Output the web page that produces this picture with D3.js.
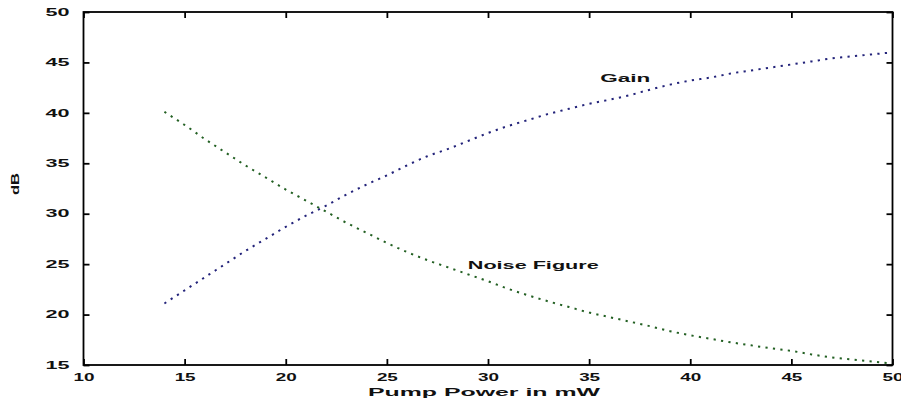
<!DOCTYPE html>
<html>
<head>
<meta charset="utf-8">
<title>Gain and Noise Figure</title>
<script src="https://d3js.org/d3.v7.min.js"></script>
<style>
  body { margin: 0; background: #fff; }
  text { font-family: "Liberation Sans", Arial, sans-serif; font-weight: bold; fill: #111; }
</style>
</head>
<body>
<div id="chart"></div>
<script>
// pump power (mW)
const power = [14, 15, 16, 17, 18, 19, 20, 21, 22, 23, 24, 25, 26, 27, 28, 29, 30, 31,
               32, 33, 34, 35, 36, 37, 38, 39, 40, 41, 42, 43, 44, 45, 46, 47, 48, 49, 50];
// gain (dB)
const gain = [21.1, 22.4, 23.7, 25.0, 26.3, 27.5, 28.7, 29.8, 30.8, 31.9, 32.9, 33.8, 34.8,
              35.7, 36.4, 37.2, 38.0, 38.7, 39.3, 39.9, 40.4, 40.9, 41.3, 41.75, 42.3, 42.8,
              43.2, 43.5, 43.9, 44.2, 44.5, 44.8, 45.1, 45.4, 45.6, 45.8, 46.0];
// noise figure (dB)
const noiseFig = [40.1, 38.8, 37.4, 36.1, 34.8, 33.6, 32.4, 31.3, 30.2, 29.1, 28.1, 27.1, 26.2,
                  25.4, 24.7, 24.0, 23.3, 22.55, 21.9, 21.3, 20.75, 20.2, 19.75, 19.3, 18.85,
                  18.35, 17.95, 17.6, 17.25, 16.95, 16.65, 16.4, 16.05, 15.75, 15.55, 15.35, 15.15];
const xTicks = [10, 15, 20, 25, 30, 35, 40, 45, 50];
const yTicks = [15, 20, 25, 30, 35, 40, 45, 50];

const W = 901, H = 406;
const margin = {top: 12, right: 8.5, bottom: 41, left: 83.5};
const w = W - margin.left - margin.right;
const h = H - margin.top - margin.bottom;

const svg = d3.select("#chart").append("svg")
    .attr("width", W).attr("height", H);
const g = svg.append("g")
    .attr("transform", "translate(" + margin.left + "," + margin.top + ")");

const x = d3.scaleLinear().domain([10, 50]).range([0, w]);
const y = d3.scaleLinear().domain([15, 50]).range([h, 0]);

// curves, dotted like matlab ':'
const line = d3.line().x((d, i) => x(power[i])).y(d => y(d)).curve(d3.curveMonotoneX);

g.append("path").datum(gain)
    .attr("d", line)
    .attr("fill", "none")
    .attr("stroke", "#23237a")
    .attr("stroke-width", 2)
    .attr("stroke-dasharray", "2.2,5.3");

g.append("path").datum(noiseFig)
    .attr("d", line)
    .attr("fill", "none")
    .attr("stroke", "#236023")
    .attr("stroke-width", 2)
    .attr("stroke-dasharray", "2.2,5.3");

// axes, ticks pointing in, mirrored on top and right
const tickLen = 6;
function styleAxis(sel) {
  sel.select(".domain").remove();
  sel.selectAll(".tick line").attr("stroke", "#000").attr("stroke-width", 1.8);
}

g.append("g")
    .attr("transform", "translate(0," + h + ")")
    .call(d3.axisBottom(x).tickValues(xTicks).tickSize(-tickLen).tickPadding(9))
    .call(styleAxis)
    .call(a => a.selectAll(".tick text")
        .attr("font-size", 10).attr("textLength", 21).attr("lengthAdjust", "spacingAndGlyphs"));

g.append("g")
    .call(d3.axisTop(x).tickValues(xTicks).tickSize(-tickLen).tickFormat(""))
    .call(styleAxis);

g.append("g")
    .call(d3.axisLeft(y).tickValues(yTicks).tickSize(-tickLen).tickPadding(14))
    .call(styleAxis)
    .call(a => a.selectAll(".tick text")
        .attr("font-size", 10).attr("textLength", 24).attr("lengthAdjust", "spacingAndGlyphs"));

g.append("g")
    .attr("transform", "translate(" + w + ",0)")
    .call(d3.axisRight(y).tickValues(yTicks).tickSize(-tickLen).tickFormat(""))
    .call(styleAxis);

// frame
g.append("rect")
    .attr("width", w).attr("height", h)
    .attr("fill", "none")
    .attr("stroke", "#000")
    .attr("stroke-width", 1.8);

// labels
g.append("text")
    .attr("x", x(35.55)).attr("y", y(43.05))
    .attr("font-size", 11)
    .attr("textLength", 50).attr("lengthAdjust", "spacingAndGlyphs")
    .text("Gain");

g.append("text")
    .attr("x", x(29.0)).attr("y", y(24.5))
    .attr("font-size", 11)
    .attr("textLength", 131).attr("lengthAdjust", "spacingAndGlyphs")
    .text("Noise Figure");

svg.append("text")
    .attr("x", 368).attr("y", 396)
    .attr("font-size", 11)
    .attr("textLength", 232).attr("lengthAdjust", "spacingAndGlyphs")
    .text("Pump Power in mW");

svg.append("text")
    .attr("transform", "translate(19,195) rotate(-90)")
    .attr("font-size", 11)
    .attr("textLength", 22).attr("lengthAdjust", "spacingAndGlyphs")
    .text("dB");
</script>
</body>
</html>
